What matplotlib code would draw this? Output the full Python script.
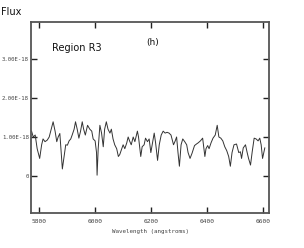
import matplotlib
matplotlib.use("Agg")
import matplotlib.pyplot as plt
from matplotlib.ticker import FixedLocator, FixedFormatter

wavelength = [5773, 5779, 5786, 5793, 5802, 5809, 5814, 5821, 5829, 5836, 5843, 5850,
              5857, 5863, 5868, 5874, 5879, 5883, 5889, 5895, 5901, 5907, 5913, 5918,
              5925, 5930, 5936, 5942, 5948, 5954, 5959, 5965, 5973, 5981, 5988, 5993,
              6000, 6005, 6007, 6011, 6017, 6023, 6029, 6034, 6040, 6046, 6053, 6058,
              6064, 6070, 6077, 6083, 6088, 6095, 6100, 6106, 6113, 6118, 6123, 6129,
              6136, 6142, 6146, 6151, 6155, 6163, 6168, 6175, 6180, 6187, 6193, 6199,
              6205, 6211, 6216, 6223, 6229, 6236, 6243, 6250, 6257, 6264, 6271, 6280,
              6286, 6291, 6296, 6301, 6307, 6313, 6320, 6327, 6332, 6339, 6346, 6355,
              6362, 6368, 6376, 6384, 6392, 6396, 6402, 6407, 6414, 6421, 6429, 6436,
              6442, 6449, 6456, 6463, 6470, 6477, 6483, 6489, 6496, 6505, 6513, 6519,
              6523, 6529, 6537, 6543, 6548, 6555, 6561, 6568, 6575, 6582, 6588, 6593,
              6598, 6606]
flux_e18 = [1.15, 1.0, 1.05, 0.7, 0.45, 0.8, 0.95, 0.88, 0.92, 1.0, 1.2, 1.39,
            1.15, 0.88, 1.0, 1.09, 0.6, 0.18, 0.5, 0.8, 0.79, 0.9, 0.95, 1.05,
            1.2, 1.39, 1.2, 0.97, 1.15, 1.39, 1.2, 1.05, 1.3, 1.2, 1.15, 0.95,
            0.9, 0.6, 0.02, 0.7, 1.3, 1.1, 0.75, 1.2, 1.39, 1.2, 1.1, 1.2,
            0.95, 0.8, 0.7, 0.5, 0.55, 0.7, 0.8, 0.7, 0.85, 1.0, 0.9, 0.8,
            1.0, 0.88, 1.0, 1.15, 1.0, 0.5, 0.75, 0.8, 0.97, 0.88, 0.95, 0.6,
            0.85, 1.1, 0.85, 0.4, 0.8, 1.05, 1.15, 1.1, 1.12, 1.1, 1.05, 0.8,
            0.9, 1.0, 0.6, 0.25, 0.8, 0.95, 0.88, 0.8, 0.6, 0.45, 0.58, 0.78,
            0.82, 0.85, 0.9, 0.97, 0.5, 0.7, 0.78, 0.7, 0.85, 0.97, 1.05, 1.3,
            1.0, 0.97, 0.9, 0.75, 0.65, 0.5, 0.25, 0.6, 0.8, 0.82, 0.6, 0.62,
            0.45, 0.72, 0.8, 0.6, 0.45, 0.28, 0.62, 0.97, 0.95, 0.9, 0.97, 0.8,
            0.45, 0.72]
flux = [v * 1e-18 for v in flux_e18]

x_ticks = [5800, 6000, 6200, 6400, 6600]
x_tick_labels = ["5800", "6000", "6200", "6400", "6600"]
y_ticks = [0, 1e-18, 2e-18, 3e-18]
y_tick_labels = ["0", "1.00E-18", "2.00E-18", "3.00E-18"]

fig = plt.figure(figsize=(3.04, 2.48), dpi=100)
ax = fig.add_axes([31/304, 1-213/248, (269-31)/304, (213-22)/248])
ax.plot(wavelength, flux, color="#333333", lw=0.7)
ax.set_xlim(5771, 6621)
ax.set_ylim(-0.95e-18, 3.95e-18)

ax.xaxis.set_major_locator(FixedLocator(x_ticks))
ax.xaxis.set_major_formatter(FixedFormatter(x_tick_labels))
ax.yaxis.set_major_locator(FixedLocator(y_ticks))
ax.yaxis.set_major_formatter(FixedFormatter(y_tick_labels))
ax.tick_params(direction="in", length=4, width=1, colors="#222222",
               top=True, right=True, labelsize=4.5)
ax.tick_params(axis="x", pad=4)
ax.tick_params(axis="y", pad=1.5, labelsize=4.1)
for lab in ax.get_xticklabels() + ax.get_yticklabels():
    lab.set_fontfamily("DejaVu Sans Mono")
    lab.set_color("#444444")
for s in ax.spines.values():
    s.set_color("#555555")
    s.set_linewidth(1.3)

fig.text(1/304, 1-12/248, "Flux", fontsize=7, va="center", ha="left", color="#111111")
ax.text(52/304, 1-48/248, "Region R3", transform=fig.transFigure, fontsize=7,
        va="center", ha="left", color="#111111")
ax.text(146/304, 1-42/248, "(h)", transform=fig.transFigure, fontsize=6.5,
        va="center", ha="left", color="#111111")
fig.text(150/304, 1-232/248, "Wavelength (angstroms)", fontsize=4.2,
         family="DejaVu Sans Mono", ha="center", va="center", color="#444444")

fig.savefig("out.png", dpi=100)
